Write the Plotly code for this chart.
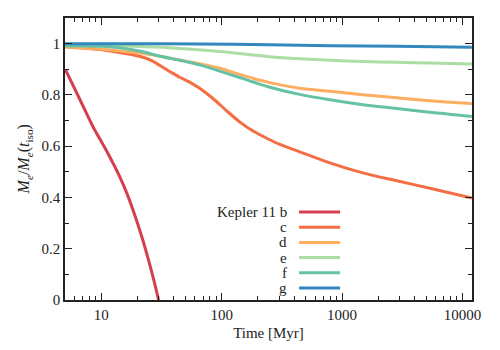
import numpy as np
import plotly.graph_objects as go

# time [Myr] and normalised envelope mass M_e/M_e(t_iso)
t_b = [5.05, 6.6, 8.52, 11.0, 14.2, 16.55, 19.5, 22.04, 24.26, 26.7, 28.28, 29.95]
m_b = [0.898, 0.785, 0.677, 0.584, 0.482, 0.409, 0.315, 0.237, 0.169, 0.096, 0.049, 0.0]

t_c = [5.0, 9.68, 14.2, 18.9, 22.9, 26.7, 32.4, 38.4, 44.8, 54.2, 65.6, 84.2, 110, 141, 181, 237, 304, 445,
       791, 1487, 2850, 5360, 11970]
m_c = [0.988, 0.977, 0.965, 0.955, 0.945, 0.932, 0.908, 0.887, 0.869, 0.85, 0.826, 0.787, 0.738, 0.695, 0.660,
       0.631, 0.607, 0.578, 0.535, 0.496, 0.465, 0.436, 0.398]

t_d = [5.0, 9.68, 14.2, 20.8, 30.5, 44.8, 65.6, 96.2, 141, 181, 251, 445, 791, 1487, 2850, 5360, 11970]
m_d = [0.988, 0.979, 0.971, 0.963, 0.951, 0.936, 0.922, 0.904, 0.880, 0.865, 0.848, 0.826, 0.814, 0.801, 0.789,
       0.777, 0.766]

t_e = [5.0, 14.2, 37.0, 96.2, 171, 251, 445, 791, 1487, 2850, 5360, 11970]
m_e = [0.996, 0.991, 0.984, 0.969, 0.957, 0.949, 0.941, 0.935, 0.930, 0.927, 0.924, 0.921]

t_f = [5.0, 9.68, 14.2, 20.8, 30.5, 44.8, 65.6, 96.2, 141, 171, 207, 251, 445, 791, 1487, 2850, 5360, 11970]
m_f = [0.992, 0.99, 0.984, 0.971, 0.952, 0.935, 0.917, 0.893, 0.868, 0.855, 0.842, 0.830, 0.802, 0.781, 0.762,
       0.747, 0.732, 0.716]

t_g = [5.0, 14.2, 65.6, 251, 791, 2850, 11970]
m_g = [1.0, 1.0, 0.999, 0.996, 0.992, 0.99, 0.986]

labels = ['Kepler 11 b', 'c', 'd', 'e', 'f', 'g']
colors = ['#d53e4f', '#f46d43', '#fdae61', '#abdda4', '#66c2a5', '#3288bd']
series = [(t_b, m_b), (t_c, m_c), (t_d, m_d), (t_e, m_e), (t_f, m_f), (t_g, m_g)]

font = 'Liberation Serif'
ink = '#222222'

fig = go.Figure()
for (t, m), lab, col in zip(series, labels, colors):
    fig.add_trace(go.Scatter(x=t, y=m, mode='lines', name=lab,
                             line=dict(color=col, width=3, shape='spline', smoothing=0.8)))

# legend drawn by hand: label right-aligned, line sample on the right
for i, (lab, col) in enumerate(zip(labels, colors)):
    yy = 0.312 - i * 0.0539
    fig.add_annotation(x=0.55, y=yy, xref='paper', yref='paper', text=lab, showarrow=False,
                       xanchor='right', yanchor='middle', font=dict(family=font, size=15, color=ink))
    fig.add_shape(type='line', xref='paper', yref='paper', x0=0.575, x1=0.676, y0=yy, y1=yy,
                  line=dict(color=col, width=3))

# y axis label placed by hand so it sits as far left as in the original
fig.add_annotation(x=-0.128, y=0.5, xref='paper', yref='paper', textangle=-90, showarrow=False,
                   text='<i>M<sub>e</sub></i>/<i>M<sub>e</sub></i>(<i>t</i><sub>iso</sub>)',
                   font=dict(family=font, size=16, color=ink))

minor_x = [v * 10 ** k for k in range(0, 5) for v in range(2, 10)]
minor_x = [v for v in minor_x if 5 <= v <= 12000]

axis_common = dict(showline=True, linecolor=ink, linewidth=1.5, mirror='allticks', ticks='inside',
                   ticklen=7, tickwidth=1.2, tickcolor=ink, showgrid=False, zeroline=False,
                   tickfont=dict(family=font, size=15, color=ink))

fig.update_layout(
    width=500, height=350, showlegend=False,
    plot_bgcolor='white', paper_bgcolor='white',
    margin=dict(l=65, r=28, t=18, b=50),
    font=dict(family=font, size=15, color=ink),
    xaxis=dict(type='log', range=[np.log10(5), np.log10(12000)], tickvals=[10, 100, 1000, 10000],
               ticktext=['10', '100', '1000', '10000'],
               minor=dict(tickvals=minor_x, ticks='inside', ticklen=4, tickcolor=ink, tickwidth=1),
               title=dict(text='Time [Myr]', standoff=6, font=dict(family=font, size=15)),
               **axis_common),
    yaxis=dict(range=[0, 1.1], tickvals=[0, 0.2, 0.4, 0.6, 0.8, 1.0],
               ticktext=['0', '0.2', '0.4', '0.6', '0.8', '1'],
               minor=dict(tickvals=[0.1, 0.3, 0.5, 0.7, 0.9, 1.1], ticks='inside', ticklen=4,
                          tickcolor=ink, tickwidth=1),
               **axis_common),
)

fig.write_html('out.html', config={'displayModeBar': False},
               post_script="document.body.style.margin='0';")
